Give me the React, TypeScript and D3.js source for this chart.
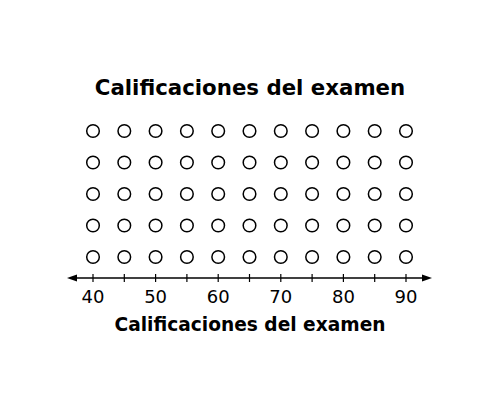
import React from 'react';
import * as d3 from 'd3';

const scores = [40, 45, 50, 55, 60, 65, 70, 75, 80, 85, 90];
const counts = [5, 5, 5, 5, 5, 5, 5, 5, 5, 5, 5];
const labelTicks = [40, 50, 60, 70, 80, 90];
const title = 'Calificaciones del examen';
const axisTitle = 'Calificaciones del examen';

const W = 500;
const H = 410;

const App = () => {
  const x = d3.scaleLinear().domain([40, 90]).range([93, 406]);
  const axisY = 278;
  const y = d3.scaleLinear().domain([1, 5]).range([257, 131]);

  const dots = scores.flatMap((s, i) =>
    d3.range(1, counts[i] + 1).map((k) => ({ s, k }))
  );

  const x0 = x(40) - 26;
  const x1 = x(90) + 26;

  return (
    <svg width={W} height={H} style={{ display: 'block', margin: -8 }} fontFamily="DejaVu Sans, Verdana, sans-serif">
      <rect width={W} height={H} fill="#fff" />
      <text x={250} y={95} textAnchor="middle" fontWeight="bold" fontSize={21.3}>
        {title}
      </text>
      {dots.map((d, i) => (
        <circle key={i} cx={x(d.s)} cy={y(d.k)} r={6.3} fill="none" stroke="#000" strokeWidth={1.5} />
      ))}
      <line x1={x0 + 4} x2={x1 - 4} y1={axisY} y2={axisY} stroke="#000" strokeWidth={1.3} />
      <path d={`M${x0},${axisY} l10,-3.5 l0,7 z`} fill="#000" />
      <path d={`M${x1},${axisY} l-10,-3.5 l0,7 z`} fill="#000" />
      {scores.map((s) => (
        <line key={s} x1={x(s)} x2={x(s)} y1={axisY - 4} y2={axisY + 4} stroke="#000" strokeWidth={1.2} />
      ))}
      {labelTicks.map((t) => (
        <text key={t} x={x(t)} y={303} textAnchor="middle" fontSize={18}>
          {t}
        </text>
      ))}
      <text x={250} y={331} textAnchor="middle" fontWeight="bold" fontSize={18.6}>
        {axisTitle}
      </text>
    </svg>
  );
};

export default App;
